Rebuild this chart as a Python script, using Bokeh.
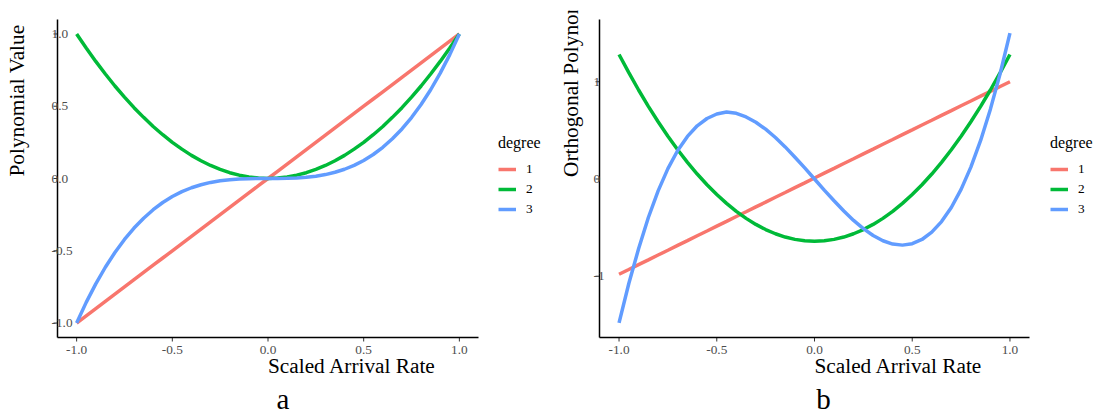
import math
from bokeh.plotting import figure
from bokeh.models import ColumnDataSource, Legend, LegendItem, Range1d
from bokeh.core.properties import value
from bokeh.layouts import row
from bokeh.embed import file_html
from bokeh.resources import INLINE

# ---------------- data ----------------
x_vals = [-1.00, -0.95, -0.90, -0.85, -0.80, -0.75, -0.70, -0.65, -0.60, -0.55, -0.50,
          -0.45, -0.40, -0.35, -0.30, -0.25, -0.20, -0.15, -0.10, -0.05, 0.00,
          0.05, 0.10, 0.15, 0.20, 0.25, 0.30, 0.35, 0.40, 0.45, 0.50,
          0.55, 0.60, 0.65, 0.70, 0.75, 0.80, 0.85, 0.90, 0.95, 1.00]

# panel a: raw polynomial values
a_deg1 = [-1.000, -0.950, -0.900, -0.850, -0.800, -0.750, -0.700, -0.650, -0.600, -0.550, -0.500,
          -0.450, -0.400, -0.350, -0.300, -0.250, -0.200, -0.150, -0.100, -0.050, 0.000,
          0.050, 0.100, 0.150, 0.200, 0.250, 0.300, 0.350, 0.400, 0.450, 0.500,
          0.550, 0.600, 0.650, 0.700, 0.750, 0.800, 0.850, 0.900, 0.950, 1.000]
a_deg2 = [1.000, 0.903, 0.810, 0.723, 0.640, 0.563, 0.490, 0.423, 0.360, 0.303, 0.250,
          0.203, 0.160, 0.123, 0.090, 0.063, 0.040, 0.023, 0.010, 0.003, 0.000,
          0.003, 0.010, 0.023, 0.040, 0.063, 0.090, 0.123, 0.160, 0.203, 0.250,
          0.303, 0.360, 0.423, 0.490, 0.563, 0.640, 0.723, 0.810, 0.903, 1.000]
a_deg3 = [-1.000, -0.857, -0.729, -0.614, -0.512, -0.422, -0.343, -0.275, -0.216, -0.166, -0.125,
          -0.091, -0.064, -0.043, -0.027, -0.016, -0.008, -0.003, -0.001, 0.000, 0.000,
          0.000, 0.001, 0.003, 0.008, 0.016, 0.027, 0.043, 0.064, 0.091, 0.125,
          0.166, 0.216, 0.275, 0.343, 0.422, 0.512, 0.614, 0.729, 0.857, 1.000]

# panel b: orthogonal polynomial values
b_deg1 = [-0.980, -0.931, -0.881, -0.832, -0.782, -0.733, -0.683, -0.634, -0.584, -0.535, -0.485,
          -0.436, -0.386, -0.337, -0.287, -0.238, -0.188, -0.139, -0.089, -0.040, 0.010,
          0.060, 0.109, 0.159, 0.208, 0.258, 0.307, 0.357, 0.406, 0.456, 0.505,
          0.555, 0.604, 0.654, 0.703, 0.753, 0.802, 0.852, 0.901, 0.951, 1.000]
b_deg2 = [1.280, 1.093, 0.915, 0.747, 0.589, 0.440, 0.301, 0.171, 0.051, -0.059, -0.160,
          -0.251, -0.333, -0.405, -0.467, -0.520, -0.563, -0.597, -0.621, -0.635, -0.640,
          -0.635, -0.621, -0.597, -0.563, -0.520, -0.467, -0.405, -0.333, -0.251, -0.160,
          -0.059, 0.051, 0.171, 0.301, 0.440, 0.589, 0.747, 0.915, 1.093, 1.280]
b_deg3 = [-1.480, -1.075, -0.718, -0.396, -0.122, 0.107, 0.293, 0.438, 0.547, 0.622, 0.668,
          0.688, 0.675, 0.638, 0.583, 0.512, 0.427, 0.330, 0.224, 0.114, 0.000,
          -0.114, -0.224, -0.329, -0.426, -0.511, -0.581, -0.635, -0.669, -0.680, -0.665,
          -0.622, -0.547, -0.438, -0.293, -0.107, 0.122, 0.396, 0.718, 1.085, 1.500]

degree_labels = ["1", "2", "3"]
x_ticks = [-1.0, -0.5, 0.0, 0.5, 1.0]
x_tick_labels = ["-1.0", "-0.5", "0.0", "0.5", "1.0"]
a_y_ticks = [-1.0, -0.5, 0.0, 0.5, 1.0]
a_y_tick_labels = ["-1.0", "-0.5", "0.0", "0.5", "1.0"]
b_y_ticks = [-1, 0, 1]
b_y_tick_labels = ["-1", "0", "1"]

x_title = "Scaled Arrival Rate"
a_y_title = "Polynomial Value"
b_y_title = "Orthogonal Polynomial Value"

# ---------------- styling ----------------
FONT = "Liberation Serif"
COLORS = ["#F8766D", "#00BA38", "#619CFF"]
TICK_FONT_SIZE = "13.3px"
TITLE_FONT_SIZE = "21.3px"
TICK_LEN = 4  # px


def build_panel(W, H, frame, xlim, ylim, y_ticks, y_tick_labels, ys, y_title,
                ytitle_dx, tag, tag_dx, legend_x, legend_y, margin):
    left, right, top, bottom = frame
    ppx = (right - left) / (xlim[1] - xlim[0])
    ppy = (bottom - top) / (ylim[1] - ylim[0])
    x_range = Range1d(xlim[0] - left / ppx, xlim[1] + (W - right) / ppx)
    y_range = Range1d(ylim[0] - (H - bottom) / ppy, ylim[1] + top / ppy)

    p = figure(width=W, height=H, x_range=x_range, y_range=y_range,
               output_backend="svg", toolbar_location=None,
               x_axis_location=None, y_axis_location=None,
               min_border=0, min_border_left=0, min_border_right=0,
               min_border_top=0, min_border_bottom=0, margin=margin)
    p.outline_line_color = None
    p.xgrid.grid_line_color = None
    p.ygrid.grid_line_color = None
    p.background_fill_color = "white"
    p.border_fill_color = "white"

    x0, x1 = xlim
    y0, y1 = ylim
    tx = TICK_LEN / ppx
    ty = TICK_LEN / ppy

    # axis ticks
    p.segment(x0=x_ticks, y0=[y0] * len(x_ticks), x1=x_ticks, y1=[y0 - ty] * len(x_ticks),
              line_color="#333333", line_width=1)
    p.segment(x0=[x0] * len(y_ticks), y0=y_ticks, x1=[x0 - tx] * len(y_ticks), y1=y_ticks,
              line_color="#333333", line_width=1)

    # data lines
    items = []
    for lab, y, col in zip(degree_labels, ys, COLORS):
        src = ColumnDataSource(dict(x=x_vals, y=y))
        r = p.line("x", "y", source=src, line_color=col, line_width=3.5)
        items.append(LegendItem(label=lab, renderers=[r]))

    # axis lines
    p.segment(x0=[x0, x0], y0=[y0, y0], x1=[x1, x0], y1=[y0, y1],
              line_color="black", line_width=1.5)

    # tick labels
    p.text(x=x_ticks, y=[y0] * len(x_ticks), text=x_tick_labels, y_offset=12,
           text_align="center", text_baseline="middle",
           text_font=value(FONT), text_font_size=TICK_FONT_SIZE, text_color="#4D4D4D")
    p.text(x=[x0] * len(y_ticks), y=y_ticks, text=y_tick_labels, x_offset=-6,
           text_align="left", text_baseline="middle",
           text_font=value(FONT), text_font_size=TICK_FONT_SIZE, text_color="#4D4D4D")

    # axis titles and panel tag
    p.text(x=[0], y=[y0], text=[x_title], y_offset=28.8,
           text_align="left", text_baseline="middle",
           text_font=value(FONT), text_font_size=TITLE_FONT_SIZE, text_color="black")
    p.text(x=[x0], y=[0], text=[y_title], x_offset=ytitle_dx, y_offset=-2, angle=math.pi / 2,
           text_align="left", text_baseline="middle",
           text_font=value(FONT), text_font_size=TITLE_FONT_SIZE, text_color="black")
    p.text(x=[0], y=[y0], text=[tag], x_offset=tag_dx, y_offset=61,
           text_align="center", text_baseline="middle",
           text_font=value(FONT), text_font_size="29px", text_color="black")

    leg = Legend(items=items, title="degree", location=(legend_x, legend_y),
                 title_text_font=FONT, title_text_font_size="16px",
                 title_text_font_style="normal", title_text_color="black",
                 label_text_font=FONT, label_text_font_size=TICK_FONT_SIZE,
                 label_text_color="black",
                 glyph_width=18, glyph_height=20, label_height=20, spacing=0,
                 padding=0, margin=0, label_standoff=10, title_standoff=7,
                 border_line_alpha=0, background_fill_alpha=0)
    p.add_layout(leg)
    return p


pa = build_panel(546, 414, (57, 478, 19, 337), (-1.1, 1.1), (-1.1, 1.1),
                 a_y_ticks, a_y_tick_labels, [a_deg1, a_deg2, a_deg3], a_y_title,
                 -41, "a", 15, 498, 195, (0, 0, 0, 0))
pb = build_panel(547, 404, (53, 483, 9, 327), (-1.1, 1.1), (-1.63, 1.64),
                 b_y_ticks, b_y_tick_labels, [b_deg1, b_deg2, b_deg3], b_y_title,
                 -29, "b", 9, 504, 195, (10, 0, 0, 0))

layout = row(pa, pb)
open("out.html", "w").write(file_html(layout, INLINE))
